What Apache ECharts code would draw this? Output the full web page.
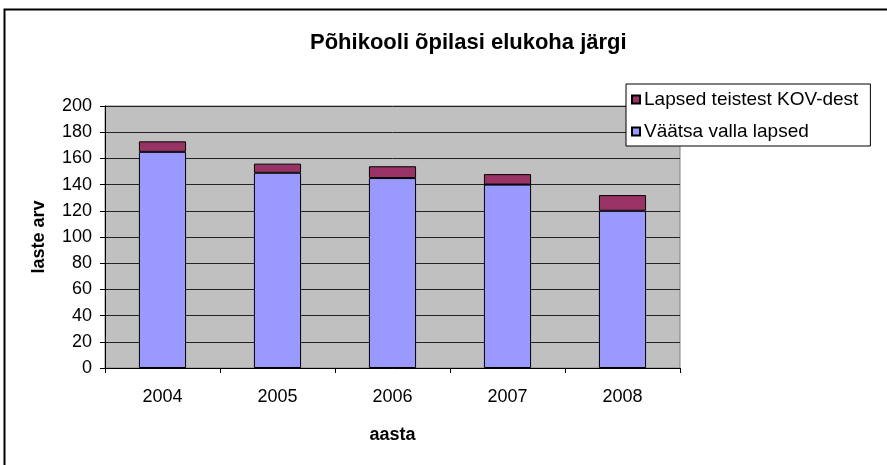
<!DOCTYPE html>
<html>
<head>
<meta charset="utf-8">
<script src="https://cdn.jsdelivr.net/npm/echarts@6/dist/echarts.min.js"></script>
<style>
  html, body { margin: 0; padding: 0; background: #fff; }
  #main { width: 887px; height: 465px; }
</style>
</head>
<body>
<div id="main"></div>
<script>
// andmed
var years = ['2004', '2005', '2006', '2007', '2008'];
var vaatsa = [165, 149, 145, 140, 120];
var teised = [8, 7, 9, 8, 12];
var yTicks = [0, 20, 40, 60, 80, 100, 120, 140, 160, 180, 200];

var chart = echarts.init(document.getElementById('main'));
var font = 'Liberation Sans, Arial, sans-serif';

var option = {
  animation: false,
  graphic: [
    {
      type: 'rect',
      shape: { x: 4.5, y: 9.5, width: 900, height: 500 },
      style: { fill: 'none', stroke: '#000', lineWidth: 2 },
      z: 0
    }
  ],
  title: {
    text: 'Põhikooli õpilasi elukoha järgi',
    left: 305,
    top: 27,
    textStyle: { fontFamily: font, fontSize: 22, fontWeight: 'bold', color: '#000' }
  },
  legend: {
    data: ['Lapsed teistest KOV-dest', 'Väätsa valla lapsed'],
    orient: 'vertical',
    left: 626,
    top: 84,
    padding: [6, 12, 5, 5],
    itemGap: 13,
    itemWidth: 8,
    itemHeight: 8,
    icon: 'rect',
    backgroundColor: '#fff',
    borderColor: '#000',
    borderWidth: 1,
    textStyle: { fontFamily: font, fontSize: 19, color: '#000', padding: [0, 0, 0, -1] },
    z: 10
  },
  grid: {
    left: 105,
    right: 207,
    top: 106,
    bottom: 97,
    show: true,
    backgroundColor: '#c0c0c0',
    borderColor: '#808080',
    borderWidth: 1
  },
  xAxis: {
    type: 'category',
    data: years,
    name: 'aasta',
    nameLocation: 'middle',
    nameGap: 58,
    nameTextStyle: { fontFamily: font, fontSize: 18, fontWeight: 'bold', color: '#000' },
    axisLine: { lineStyle: { color: '#000', width: 1 } },
    axisTick: { show: true, length: 5, lineStyle: { color: '#000' } },
    axisLabel: { fontFamily: font, fontSize: 18, color: '#000', margin: 20 }
  },
  yAxis: {
    type: 'value',
    min: yTicks[0],
    max: yTicks[yTicks.length - 1],
    interval: 20,
    name: 'laste arv',
    nameLocation: 'middle',
    nameGap: 57,
    nameRotate: 90,
    nameTextStyle: { fontFamily: font, fontSize: 18, fontWeight: 'bold', color: '#000' },
    axisLine: { show: true, lineStyle: { color: '#000', width: 1 } },
    axisTick: { show: true, length: 5, lineStyle: { color: '#000' } },
    axisLabel: { fontFamily: font, fontSize: 18, color: '#000', margin: 13 },
    splitLine: { show: true, lineStyle: { color: '#222', width: 1 } }
  },
  series: [
    {
      name: 'Väätsa valla lapsed',
      type: 'bar',
      stack: 'kokku',
      barWidth: '41%',
      data: vaatsa,
      itemStyle: { color: '#9999ff', borderColor: '#000', borderWidth: 1 }
    },
    {
      name: 'Lapsed teistest KOV-dest',
      type: 'bar',
      stack: 'kokku',
      barWidth: '41%',
      data: teised,
      itemStyle: { color: '#993366', borderColor: '#000', borderWidth: 1 }
    }
  ]
};

chart.setOption(option);
</script>
</body>
</html>
